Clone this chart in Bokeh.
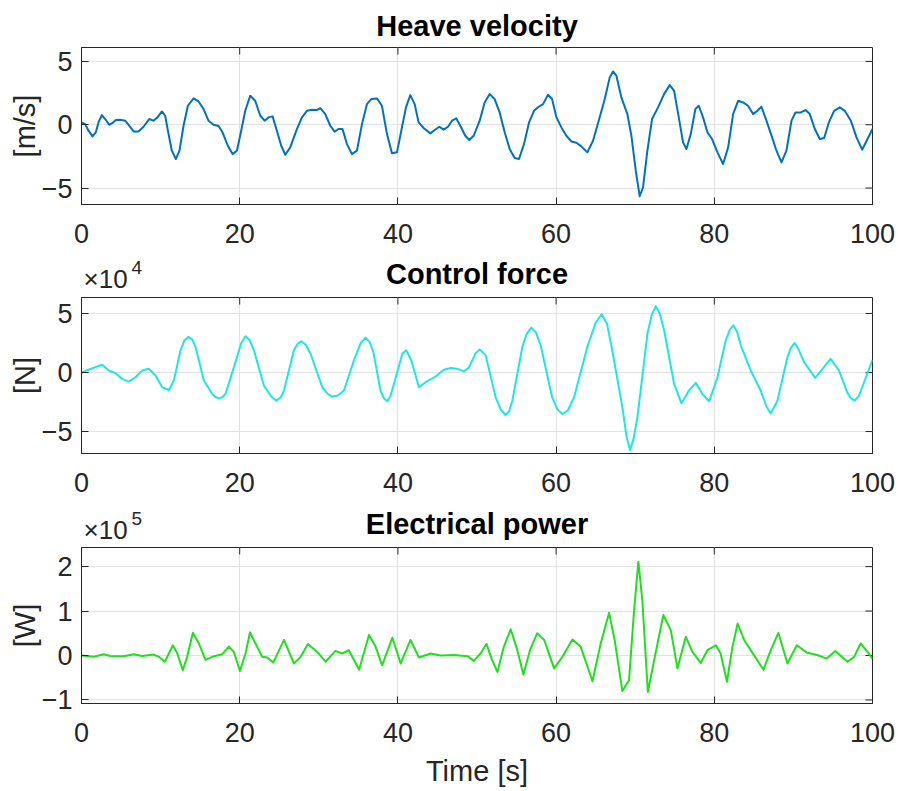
import math
from bokeh.plotting import figure
from bokeh.layouts import column
from bokeh.models import FixedTicker, Range1d
from bokeh.core.properties import value
from bokeh.embed import file_html
from bokeh.resources import INLINE

# ---------------- data ----------------
x_ticks = [0, 20, 40, 60, 80, 100]

# Heave velocity [m/s]
t_vel = [0, 0.46, 0.89, 1.39, 1.81, 2.15, 2.57, 2.99, 3.5, 3.84,
         4.34, 4.89, 5.52, 6.03, 6.58, 7.21, 7.84, 8.56, 9.1, 9.61,
         10.16, 10.58, 10.92, 11.42, 11.93, 12.39, 12.9, 13.45, 14.17, 14.8,
         15.43, 16.06, 16.69, 17.33, 17.83, 18.5, 19.1, 19.65, 20.19, 20.7,
         21.33, 21.96, 22.6, 23.15, 23.65, 24.16, 24.7, 25.25, 25.76, 26.39,
         27.23, 27.87, 28.5, 29.13, 29.76, 30.19, 30.82, 31.45, 32.0, 32.5,
         33.0, 33.56, 34.19, 34.82, 35.46, 36.09, 36.64, 37.35, 37.98, 38.62,
         39.25, 39.88, 40.43, 41.02, 41.57, 42.12, 42.62, 43.25, 44.1, 44.65,
         45.24, 45.78, 46.33, 46.84, 47.38, 47.89, 48.52, 49.03, 49.58,
         50.34, 50.97, 51.6, 52.23, 52.86, 53.5, 54.13, 54.76, 55.31, 55.94,
         56.58, 57.21, 57.8, 58.35, 58.98, 59.49, 60.04, 60.67, 61.3, 61.93,
         62.56, 63.2, 63.95, 64.67, 65.39, 66.15, 66.78, 67.2, 67.62, 68.25,
         69.01, 69.52, 70.07, 70.57, 70.99, 71.54, 72.13, 72.89, 73.65, 74.37,
         74.92, 75.51, 76.05, 76.48, 77.02, 77.61, 78.04, 78.58, 79.13, 79.72,
         80.4, 81.11, 81.75, 82.38, 83.01, 83.64, 84.27, 84.9, 85.45, 85.96,
         86.59, 87.31, 87.86, 88.49, 89.12, 89.76, 90.26, 90.94, 91.53, 92.07,
         92.71, 93.34, 93.89, 94.48, 95.15, 95.87, 96.5, 97.26, 97.98, 98.69,
         99.37, 100.0]
heave_velocity = [0.18, 0.05, -0.47, -0.92, -0.6, 0.18, 0.76, 0.45, 0, 0.1,
                  0.37, 0.39, 0.32, -0.08, -0.53, -0.53, -0.16, 0.45, 0.32, 0.58,
                  1.05, 0.71, -0.47, -2.05, -2.71, -2.05, -0.08, 1.5, 2.08, 1.84,
                  1.24, 0.32, 0, -0.1, -0.6, -1.66, -2.32, -2.05, -0.47, 1.1,
                  2.29, 1.89, 0.71, 0.32, 0.58, 0.66, -0.47, -1.66, -2.37, -1.79,
                  -0.34, 0.58, 1.1, 1.18, 1.16, 1.32, 0.84, -0.08, -0.55, -0.34,
                  -0.34, -1.53, -2.32, -2.05, 0.05, 1.63, 2.03, 2.08, 1.5, -0.74,
                  -2.26, -2.18, -0.47, 1.37, 2.34, 1.63, 0.18, -0.26, -0.68, -0.42,
                  -0.16, -0.39, -0.16, 0.32, 0.5, -0.08, -0.87, -1.21, -0.87,
                  0.32, 1.76, 2.42, 2.03, 0.97, -0.6, -1.92, -2.63, -2.71, -1.53,
                  0.18, 1.1, 1.42, 1.63, 2.37, 2.03, 0.58, -0.21, -0.87, -1.32,
                  -1.42, -1.71, -2.18, -1.26, 0.32, 2.03, 3.74, 4.21, 3.87, 2.16,
                  0.84, -0.87, -3.63, -5.65, -4.95, -2.05, 0.45, 1.37, 2.42, 3.13,
                  2.68, 0.58, -1.39, -1.92, -0.74, 1.24, 1.5, 0.58, -0.6, -1.13,
                  -2.18, -3.1, -1.79, 0.84, 1.89, 1.76, 1.5, 0.84, 1.1, 1.42,
                  0.32, -1.0, -2.05, -2.97, -2.05, 0.32, 0.97, 0.97, 1.16, 0.84,
                  -0.34, -1.13, -1.05, 0.18, 1.1, 1.37, 1.1, 0.32, -1.0, -1.97,
                  -1.13, -0.34]

# Control force [N], in units of 1e4
t_force = [0, 0.63, 1.77, 2.6, 3.46, 4.3, 5.14, 5.99, 6.83, 7.67,
           8.5, 9.36, 10.2, 11.05, 11.68, 12.52, 13.0, 13.5, 14.0, 14.42,
           15.47, 16.53, 16.95, 17.37, 17.8, 18.2, 19.27, 20.2, 20.74, 21.25,
           21.8, 23.06, 24.0, 24.66, 25.2, 25.6, 26.85, 27.3, 27.8, 28.35,
           28.96, 30.44, 31.1, 31.7, 32.4, 33.18, 34.44, 35.3, 35.92, 36.45,
           36.9, 37.8, 38.25, 38.66, 39.05, 39.5, 40.56, 41.06, 41.7, 42.66,
           43.5, 44.77, 45.8, 46.67, 47.5, 48.35, 49.0, 49.8, 50.34, 51.1,
           52.36, 53.0, 53.6, 54.05, 54.47, 55.73, 56.3, 56.87, 57.45, 58.05,
           59.5, 60.15, 60.8, 61.5, 62.27, 63.95, 65.0, 65.77, 66.45, 67.1,
           68.38, 68.9, 69.35, 69.8, 70.28, 71.55, 72.1, 72.6, 73.1, 73.66,
           74.92, 75.85, 76.8, 77.66, 78.5, 79.35, 80.4, 81.45, 81.95, 82.42,
           82.9, 83.35, 84.6, 85.87, 86.6, 87.14, 87.98, 89.25, 89.7, 90.17,
           90.7, 91.35, 92.75, 93.68, 94.7, 95.77, 96.8, 97.3, 97.77, 98.25,
           98.7, 100]
control_force_e4 = [-0.06, 0.17, 0.45, 0.65, 0.17, -0.06, -0.54, -0.77, -0.4, 0.17,
                    0.31, -0.26, -1.25, -1.48, -0.68, 1.88, 2.7, 3.01, 2.8, 2.16,
                    -0.68, -1.82, -2.08, -2.19, -2.1, -1.82, 0.45, 2.5, 3.07, 2.75,
                    1.88, -1.11, -2.05, -2.39, -2.1, -1.53, 1.88, 2.4, 2.64, 2.35,
                    1.59, -1.25, -1.8, -2.05, -1.95, -1.53, 1.02, 2.5, 2.95, 2.55,
                    1.73, -1.53, -2.2, -2.44, -2.0, -0.97, 1.59, 1.88, 1.02, -1.25,
                    -0.82, -0.34, 0.23, 0.38, 0.31, 0.09, 0.45, 1.6, 1.96, 1.45,
                    -2.1, -3.15, -3.6, -3.3, -2.39, 2.16, 3.3, 3.8, 3.4, 2.3,
                    -2.1, -3.1, -3.52, -3.2, -2.1, 2.16, 4.2, 4.94, 4.1, 1.88,
                    -2.95, -5.4, -6.56, -5.6, -3.8, 3.3, 4.9, 5.62, 5.0, 3.58,
                    -0.97, -2.61, -1.53, -0.88, -1.82, -2.44, -0.4, 2.73, 3.6, 4.0,
                    3.4, 2.3, 0.17, -1.53, -2.9, -3.47, -2.39, 1.31, 2.1, 2.5,
                    1.9, 0.88, -0.45, 0.31, 1.16, 0.17, -1.68, -2.2, -2.39, -2.0,
                    -1.25, 1.08]

# Electrical power [W], in units of 1e5
t_power = [0, 1.56, 2.8, 3.67, 5.35, 6.6, 7.67, 9.15, 9.78, 10.54,
           11.55, 12.1, 12.8, 13.36, 14.08, 14.84, 15.68, 16.74, 17.8, 18.63,
           19.27, 20.03, 20.74, 21.3, 22.0, 22.85, 23.48, 24.24, 25.6, 26.86,
           27.7, 28.63, 29.8, 30.86, 32.1, 32.97, 33.8, 35.1, 36.34, 37.18,
           38.0, 39.3, 40.35, 41.6, 42.66, 44.14, 45.4, 47.1, 48.8, 49.6,
           50.45, 51.2, 51.9, 52.58, 53.4, 54.26, 55.1, 55.86, 56.7, 57.6,
           58.5, 59.74, 60.8, 62.06, 63.1, 64.6, 65.64, 66.7, 67.4, 68.38,
           69.22, 69.86, 70.4, 70.9, 71.6, 72.4, 73.56, 74.5, 75.34, 76.4,
           77.24, 78.3, 79.13, 80.2, 80.8, 81.6, 82.3, 82.95, 83.77, 84.83,
           86.22, 87.14, 88.1, 89.25, 90.43, 91.76, 93.0, 94.2, 95.3, 96.84,
           97.68, 98.5, 99.37, 100]
electrical_power_e5 = [0, -0.03, 0.03, -0.01, -0.015, 0.03, -0.01, 0.02, -0.03, -0.14,
                       0.23, 0.05, -0.33, -0.03, 0.51, 0.27, -0.1, -0.015, 0.03, 0.2,
                       0.08, -0.35, 0.045, 0.52, 0.27, -0.03, -0.045, -0.16, 0.35, -0.18,
                       -0.03, 0.26, 0.08, -0.14, 0.105, 0.045, 0.12, -0.32, 0.46, 0.2,
                       -0.22, 0.4, -0.18, 0.35, -0.045, 0.045, 0.0, 0.01, -0.015, -0.12,
                       0.045, 0.26, -0.1, -0.37, 0.2, 0.59, 0.12, -0.43, 0.12, 0.5,
                       0.35, -0.29, -0.03, 0.36, 0.2, -0.58, 0.27, 0.96, 0.35, -0.8,
                       -0.555, 1.02, 2.11, 1.245, -0.82, -0.1, 0.91, 0.57, -0.29, 0.42,
                       0.08, -0.165, 0.12, 0.23, 0.045, -0.59, 0.2, 0.72, 0.35, 0.06,
                       -0.32, 0.12, 0.51, -0.18, 0.23, 0.06, 0.01, -0.07, 0.1, -0.14,
                       -0.03, 0.27, 0.08, -0.07]

vel_ticks = [-5, 0, 5]
force_ticks = [-5, 0, 5]
power_ticks = [-1, 0, 1, 2]

# ---------------- styling ----------------
FONT = "Liberation Sans"
AX = "#262626"
GRID = "#e2e2e2"
TICK_LEN = 7
LEFT, RIGHT, WIDTH = 81, 26, 898


def make_fig(title, ylabel, yrange, yticks, height, b_top, b_bottom, xlabel=None):
    p = figure(width=WIDTH, height=height, x_range=Range1d(0, 100),
               y_range=Range1d(*yrange), output_backend="svg",
               toolbar_location=None, min_border_left=LEFT, min_border_right=RIGHT,
               min_border_top=b_top, min_border_bottom=b_bottom,
               background_fill_color="white", border_fill_color="white")
    p.outline_line_color = AX
    p.outline_line_width = 1
    if title:
        p.title.text = title
        p.title.align = "center"
        p.title.text_font = FONT
        p.title.text_font_size = "29px"
        p.title.text_font_style = "bold"
        p.title.text_color = "black"
        p.title.standoff = 11

    for ax, ticks in ((p.xaxis[0], x_ticks), (p.yaxis[0], yticks)):
        ax.ticker = FixedTicker(ticks=ticks)
        ax.major_label_text_font = FONT
        ax.major_label_text_font_size = "27px"
        ax.major_label_text_color = AX
        ax.major_tick_in = TICK_LEN
        ax.major_tick_out = 0
        ax.minor_tick_line_color = None
        ax.axis_line_color = AX
        ax.major_tick_line_color = AX
        ax.axis_label_text_font = FONT
        ax.axis_label_text_font_size = "29px"
        ax.axis_label_text_font_style = "normal"
        ax.axis_label_text_color = AX
    p.xaxis.major_label_standoff = 19
    p.yaxis.major_label_standoff = 9
    p.yaxis.axis_label = ylabel
    p.yaxis.axis_label_standoff = -2
    if xlabel:
        p.xaxis.axis_label = xlabel
        p.xaxis.axis_label_standoff = 10

    # box ticks on the top and right edges (MATLAB "box on")
    inner_x = [t for t in x_ticks if 0 < t < 100]
    p.ray(x=inner_x, y=[yrange[1]] * len(inner_x), length=TICK_LEN,
          length_units="screen", angle=-math.pi / 2, line_color=AX, line_width=1)
    p.ray(x=[100] * len(yticks), y=yticks, length=TICK_LEN,
          length_units="screen", angle=math.pi, line_color=AX, line_width=1)

    p.xgrid.ticker = FixedTicker(ticks=x_ticks)
    p.ygrid.ticker = FixedTicker(ticks=yticks)
    p.xgrid.grid_line_color = GRID
    p.ygrid.grid_line_color = GRID
    return p


def make_header(title, exponent, height, title_base, exp_base, sup_base):
    """Thin strip above a plot holding its title and the x10^n multiplier."""
    h = figure(width=WIDTH, height=height, x_range=Range1d(0, 100),
               y_range=Range1d(0, height), output_backend="svg",
               toolbar_location=None, x_axis_type=None, y_axis_type=None,
               min_border_left=LEFT, min_border_right=RIGHT,
               min_border_top=0, min_border_bottom=0,
               background_fill_color="white", border_fill_color="white")
    h.outline_line_color = None
    h.xgrid.visible = False
    h.ygrid.visible = False
    h.text(x=[50], y=[title_base], text=[title], text_font=value(FONT),
           text_font_size=value("29px"), text_font_style="bold",
           text_align="center", text_baseline="alphabetic", text_color="black")
    h.text(x=[0], y=[exp_base], text=["\u00d710"], x_offset=2, text_font=value(FONT),
           text_font_size=value("26px"), text_align="left",
           text_baseline="alphabetic", text_color=AX)
    h.text(x=[0], y=[sup_base], text=[exponent], x_offset=50, text_font=value(FONT),
           text_font_size=value("19px"), text_align="left",
           text_baseline="alphabetic", text_color=AX)
    return h


vel_range = (-6.3, 6.1)
force_range = (-6.86, 6.35)
power_range = (-1.08, 2.43)

p1 = make_fig("Heave velocity", "[m/s]", vel_range, vel_ticks, 252, 47, 48)
p1.line(t_vel, heave_velocity, line_color="#0072BD", line_width=2, line_join="round")

h2 = make_header("Control force", "4", 41, 20, 15, 26)
p2 = make_fig(None, "[N]", force_range, force_ticks, 208, 4, 48)
p2.line(t_force, control_force_e4, line_color="#1ee6e6", line_width=2, line_join="round")

h3 = make_header("Electrical power", "5", 42, 20, 14, 25)
p3 = make_fig(None, "[W]", power_range, power_ticks, 246, 4, 86, xlabel="Time [s]")
p3.line(t_power, electrical_power_e5, line_color="#1ee01e", line_width=2, line_join="round")

layout = column(p1, h2, p2, h3, p3, spacing=0)
open("out.html", "w").write(file_html(layout, INLINE))
